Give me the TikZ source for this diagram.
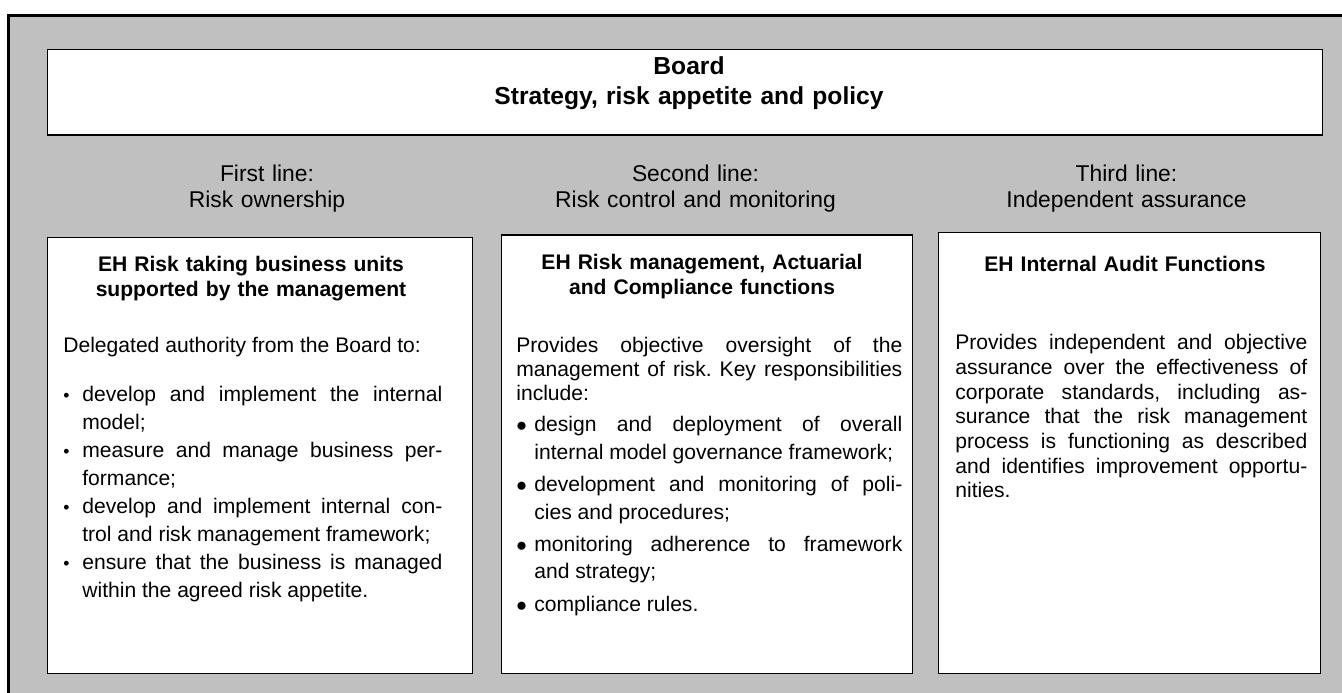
\documentclass[tikz,border=0pt]{standalone}
\usepackage{fontspec}
\setmainfont{Liberation Sans}
\frenchspacing
\tolerance=9999
\hbadness=10000
\definecolor{sfondo}{RGB}{192,192,192}
\tikzset{
  riquadro/.style={draw, fill=white, line width=0.6pt, inner sep=0pt, anchor=north west},
  intesta/.style={text width=8cm, align=center, inner sep=0pt, anchor=base,
    font=\fontsize{13}{14.7}\selectfont},
  titolo/.style={text width=8cm, align=center, inner sep=0pt, anchor=base,
    font=\bfseries\fontsize{12}{13.9}\selectfont},
  corpo/.style 2 args={text width=#1, align=justify, inner sep=0pt, anchor=base west,
    font=\fontsize{12}{#2}\selectfont},
}
\newcommand{\voce}[1]{\hangindent=0.38cm\hangafter=1\relax
  \makebox[0.38cm][l]{\fontsize{10}{10}\selectfont\textbullet}#1\par}
\newcommand{\vocebig}[1]{\hangindent=0.36cm\hangafter=1\relax
  \makebox[0.36cm][l]{$\bullet$}#1\par}
\begin{document}
\begin{tikzpicture}
        \useasboundingbox (0,0) rectangle (26.84,13.86);
        \clip (0,0) rectangle (26.84,13.86);
        %%%%%%%%%% Sfondo %%%%%%%%%%
        \draw[line width=1.5pt, fill=sfondo] (0.174,-1) rectangle (28,13.554);

        %%%%%%%%%% Riquadri %%%%%%%%%%
        \node[riquadro, minimum width=25.5cm, minimum height=1.71cm] (board) at (0.94,12.88) {};
        \node[riquadro, minimum width=8.5cm, minimum height=8.726cm] (first) at (0.94,9.126) {};
        \node[riquadro, minimum width=8.22cm, minimum height=8.77cm] (second) at (10.01,9.17) {};
        \node[riquadro, minimum width=7.65cm, minimum height=8.814cm] (third) at (18.75,9.214) {};

        %%%%%%%%%% Board %%%%%%%%%%
        \node[text width=20cm, align=center, inner sep=0pt, anchor=base,
          font=\bfseries\fontsize{14}{17}\selectfont] (boardtext) at (13.78,12.36)
          {Board\\Strategy, risk appetite and policy};

        %%%%%%%%%% Linee %%%%%%%%%%
        \node[intesta] (firsthead) at (5.34,10.23) {First line:\\Risk ownership};
        \node[intesta] (secondhead) at (13.91,10.23) {Second line:\\Risk control and monitoring};
        \node[intesta] (thirdhead) at (22.53,10.23) {Third line:\\Independent assurance};

        %%%%%%%%%% Titoli %%%%%%%%%%
        \node[titolo] (firsttitle) at (5.02,8.42) {EH Risk taking business units\\supported by the management};
        \node[titolo] (secondtitle) at (14.04,8.46) {EH Risk management, Actuarial\\and Compliance functions};
        \node[titolo] (thirdtitle) at (22.50,8.42) {EH Internal Audit Functions};

        %%%%%%%%%% Testi %%%%%%%%%%
        \node[corpo={7.58cm}{13.9pt}] (firstintro) at (1.26,6.80) {Delegated authority from the Board to:};
        \node[corpo={7.58cm}{15.9pt}] (firstlist) at (1.26,5.82) {%
          \voce{develop and implement the internal\linebreak model;}
          \voce{measure and manage business per-\linebreak formance;}
          \voce{develop and implement internal con-\linebreak trol and risk management framework;}
          \voce{ensure that the business is managed\linebreak within the agreed risk appetite.}};

        \node[corpo={7.72cm}{13.6pt}] (secondintro) at (10.32,6.80)
          {Provides objective oversight of the\linebreak management of risk. Key responsibilities\linebreak include:};
        \node[corpo={7.72cm}{15.6pt}] (secondlist) at (10.32,5.22) {%
          \setlength{\parskip}{2.8pt}%
          \vocebig{design and deployment of overall\linebreak internal model governance framework;}
          \vocebig{development and monitoring of poli-\linebreak cies and procedures;}
          \vocebig{monitoring adherence to framework\linebreak and strategy;}
          \vocebig{compliance rules.}};

        \node[corpo={7.04cm}{14pt}] (thirdtext) at (19.10,6.86)
          {Provides independent and objective\linebreak assurance over the effectiveness of\linebreak
           corporate standards, including as-\linebreak surance that the risk management\linebreak
           process is functioning as described\linebreak and identifies improvement opportu-\linebreak nities.};
\end{tikzpicture}
\end{document}
